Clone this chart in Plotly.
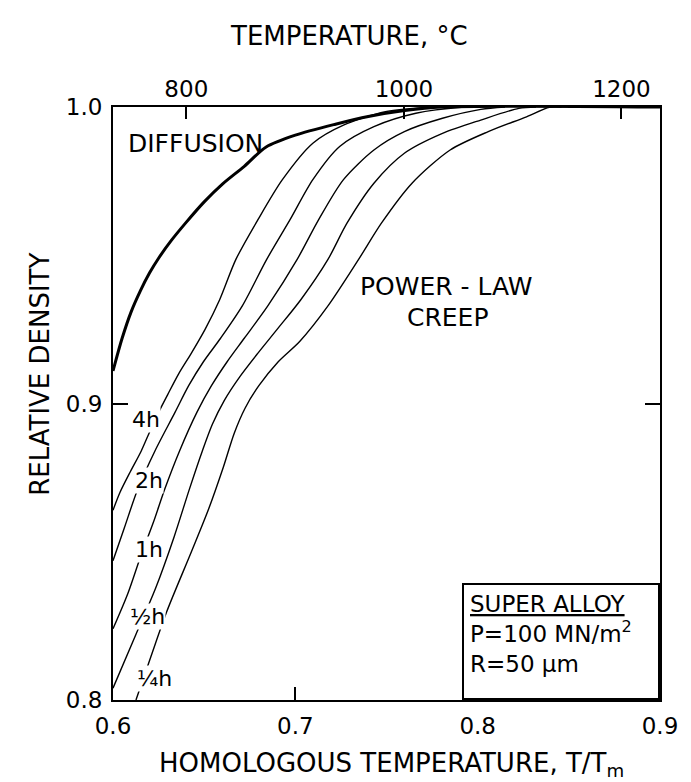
import plotly.graph_objects as go

# ---------------- data ----------------
T_MELT_K = 1676          # melting temperature used for the top (deg C) axis
X_RANGE = [0.6, 0.9]     # homologous temperature T/Tm
Y_RANGE = [0.8, 1.0]     # relative density
x_ticks = [0.6, 0.7, 0.8, 0.9]
x_tick_text = ["0.6", "0.7", "0.8", "0.9"]
y_ticks = [0.8, 0.9, 1.0]
y_tick_text = ["0.8", "0.9", "1.0"]
temp_ticks = [800, 1000, 1200]
temp_tick_text = ["800", "1000", "1200"]

# Diffusion boundary (thick line)
diff_x = [0.600, 0.605, 0.610, 0.615, 0.620, 0.625, 0.632, 0.640, 0.650, 0.660,
          0.672, 0.684, 0.700, 0.722, 0.740, 0.760, 0.780, 0.900]
diff_y = [0.911, 0.922, 0.931, 0.938, 0.944, 0.949, 0.955, 0.961, 0.968, 0.974,
          0.980, 0.9865, 0.9905, 0.9942, 0.9968, 0.9988, 1.000, 1.000]

# Power-law creep curves, one per hold time
h4_x = [0.600, 0.6038, 0.6095, 0.6155, 0.6205, 0.6250, 0.6300, 0.6360, 0.6430, 0.6505,
        0.6585, 0.6674, 0.6795, 0.6929, 0.7096, 0.7264, 0.7494, 0.775]
h4_y = [0.864, 0.870, 0.877, 0.884, 0.891, 0.897, 0.903, 0.910, 0.917, 0.925,
        0.935, 0.9486, 0.962, 0.9755, 0.9878, 0.9939, 0.9984, 1.0]

h2_x = [0.600, 0.6062, 0.6135, 0.6230, 0.6340, 0.6415, 0.6495, 0.6590, 0.6710, 0.6843,
        0.6971, 0.7096, 0.7243, 0.7431, 0.7661, 0.7912, 0.800]
h2_y = [0.847, 0.858, 0.871, 0.884, 0.897, 0.906, 0.914, 0.922, 0.933, 0.9486,
        0.962, 0.9755, 0.9867, 0.9934, 0.9979, 0.9999, 1.0]

h1_x = [0.600, 0.6082, 0.6152, 0.6222, 0.6285, 0.6365, 0.6460, 0.6540, 0.6625, 0.6720,
        0.6850, 0.7010, 0.7128, 0.7264, 0.7431, 0.7598, 0.7807, 0.8017, 0.815]
h1_y = [0.824, 0.836, 0.8485, 0.860, 0.8713, 0.884, 0.897, 0.906, 0.914, 0.922,
        0.933, 0.9486, 0.962, 0.9755, 0.9855, 0.9917, 0.9962, 0.9992, 1.0]

hhalf_x = [0.600, 0.6125, 0.6233, 0.6335, 0.6420, 0.6490, 0.6545, 0.6610, 0.6695, 0.6795,
           0.6900, 0.7030, 0.7179, 0.7284, 0.7431, 0.7598, 0.7807, 0.8017, 0.8226, 0.832]
hhalf_y = [0.804, 0.822, 0.8376, 0.855, 0.8713, 0.884, 0.893, 0.901, 0.909, 0.917,
           0.925, 0.935, 0.9486, 0.9609, 0.9743, 0.9844, 0.9911, 0.9956, 0.99955, 1.0]

hquart_x = [0.6126, 0.621, 0.6296, 0.643, 0.6525, 0.6605, 0.6665, 0.6725, 0.6800, 0.6905,
            0.7025, 0.7180, 0.7347, 0.7473, 0.7640, 0.7849, 0.8058, 0.8268, 0.8393, 0.846]
hquart_y = [0.800, 0.815, 0.830, 0.850, 0.8645, 0.8785, 0.890, 0.8985, 0.906, 0.914,
            0.921, 0.933, 0.9486, 0.9609, 0.9743, 0.9855, 0.9917, 0.9967, 0.9999, 1.0]

curve_labels = ["4h", "2h", "1h", "½h", "¼h"]
label_x = [0.618, 0.620, 0.620, 0.619, 0.623]
label_y = [0.8946, 0.8741, 0.8508, 0.8281, 0.8071]

# ---------------- figure ----------------
FONT = "DejaVu Sans"
fig = go.Figure()

fig.add_trace(go.Scatter(x=diff_x, y=diff_y, mode="lines",
                         line=dict(color="black", width=3, shape="spline", smoothing=0.8),
                         hoverinfo="skip"))

for cx, cy in [(h4_x, h4_y), (h2_x, h2_y), (h1_x, h1_y), (hhalf_x, hhalf_y), (hquart_x, hquart_y)]:
    fig.add_trace(go.Scatter(x=cx, y=cy, mode="lines",
                             line=dict(color="black", width=1.4, shape="spline", smoothing=0.8),
                             hoverinfo="skip"))

# invisible trace carrying the top temperature axis
t_lo = X_RANGE[0] * T_MELT_K - 273
t_hi = X_RANGE[1] * T_MELT_K - 273
fig.add_trace(go.Scatter(x=[t_lo, t_hi], y=[None, None], xaxis="x2", yaxis="y",
                         mode="lines", showlegend=False, hoverinfo="skip"))

fig.update_layout(
    width=691, height=782,
    margin=dict(l=105, r=39, t=99, b=90),
    paper_bgcolor="white", plot_bgcolor="white",
    showlegend=False,
    font=dict(family=FONT, color="black"),
    xaxis=dict(range=X_RANGE, tickvals=x_ticks, ticktext=x_tick_text,
               ticks="inside", ticklen=13, tickwidth=1.5, tickcolor="black",
               showline=True, linewidth=2, linecolor="black", mirror=True,
               showgrid=False, zeroline=False,
               tickfont=dict(size=23, family=FONT), ticklabelstandoff=4),
    xaxis2=dict(range=[t_lo, t_hi], overlaying="x", side="top",
                tickvals=temp_ticks, ticktext=temp_tick_text,
                ticks="inside", ticklen=12, tickwidth=1.5, tickcolor="black",
                showline=False, showgrid=False, zeroline=False,
                tickfont=dict(size=23, family=FONT), ticklabelstandoff=4),
    yaxis=dict(range=Y_RANGE, tickvals=y_ticks, ticktext=y_tick_text,
               ticks="inside", ticklen=15, tickwidth=1.5, tickcolor="black",
               showline=True, linewidth=2, linecolor="black", mirror="ticks",
               showgrid=False, zeroline=False,
               tickfont=dict(size=23, family=FONT), ticklabelstandoff=4),
)

ann = []
# axis titles
ann.append(dict(text="TEMPERATURE, °C", xref="paper", yref="paper", x=0.4314, y=1.12,
                xanchor="center", yanchor="middle", showarrow=False, font=dict(size=26)))
ann.append(dict(text="HOMOLOGOUS TEMPERATURE, T/T<sub>m</sub>", xref="paper", yref="paper",
                x=0.51, y=-0.108, xanchor="center", yanchor="middle", showarrow=False,
                font=dict(size=26)))
ann.append(dict(text="RELATIVE DENSITY", xref="paper", yref="paper", x=-0.1335, y=0.55,
                xanchor="center", yanchor="middle", textangle=-90, showarrow=False,
                font=dict(size=26)))
# in-plot text
ann.append(dict(text="DIFFUSION", x=0.6454, y=0.9876, xanchor="center", yanchor="middle",
                showarrow=False, font=dict(size=25)))
ann.append(dict(text="POWER - LAW", x=0.783, y=0.9394, xanchor="center", yanchor="middle",
                showarrow=False, font=dict(size=25)))
ann.append(dict(text="CREEP", x=0.784, y=0.929, xanchor="center", yanchor="middle",
                showarrow=False, font=dict(size=25)))
for t, lx, ly in zip(curve_labels, label_x, label_y):
    ann.append(dict(text=t, x=lx, y=ly, xanchor="center", yanchor="middle", showarrow=False,
                    bgcolor="white", borderpad=0, font=dict(size=22)))
# parameter box
ann.append(dict(text="<u>SUPER ALLOY</u><br>P=100 MN/m<sup>2</sup><br>R=50 μm",
                x=X_RANGE[1], y=Y_RANGE[0], xanchor="right", yanchor="bottom",
                width=182, height=101, align="left", valign="top",
                bordercolor="black", borderwidth=2, borderpad=6, bgcolor="white",
                showarrow=False, font=dict(size=23)))
fig.update_layout(annotations=ann)

fig.write_html("out.html")
